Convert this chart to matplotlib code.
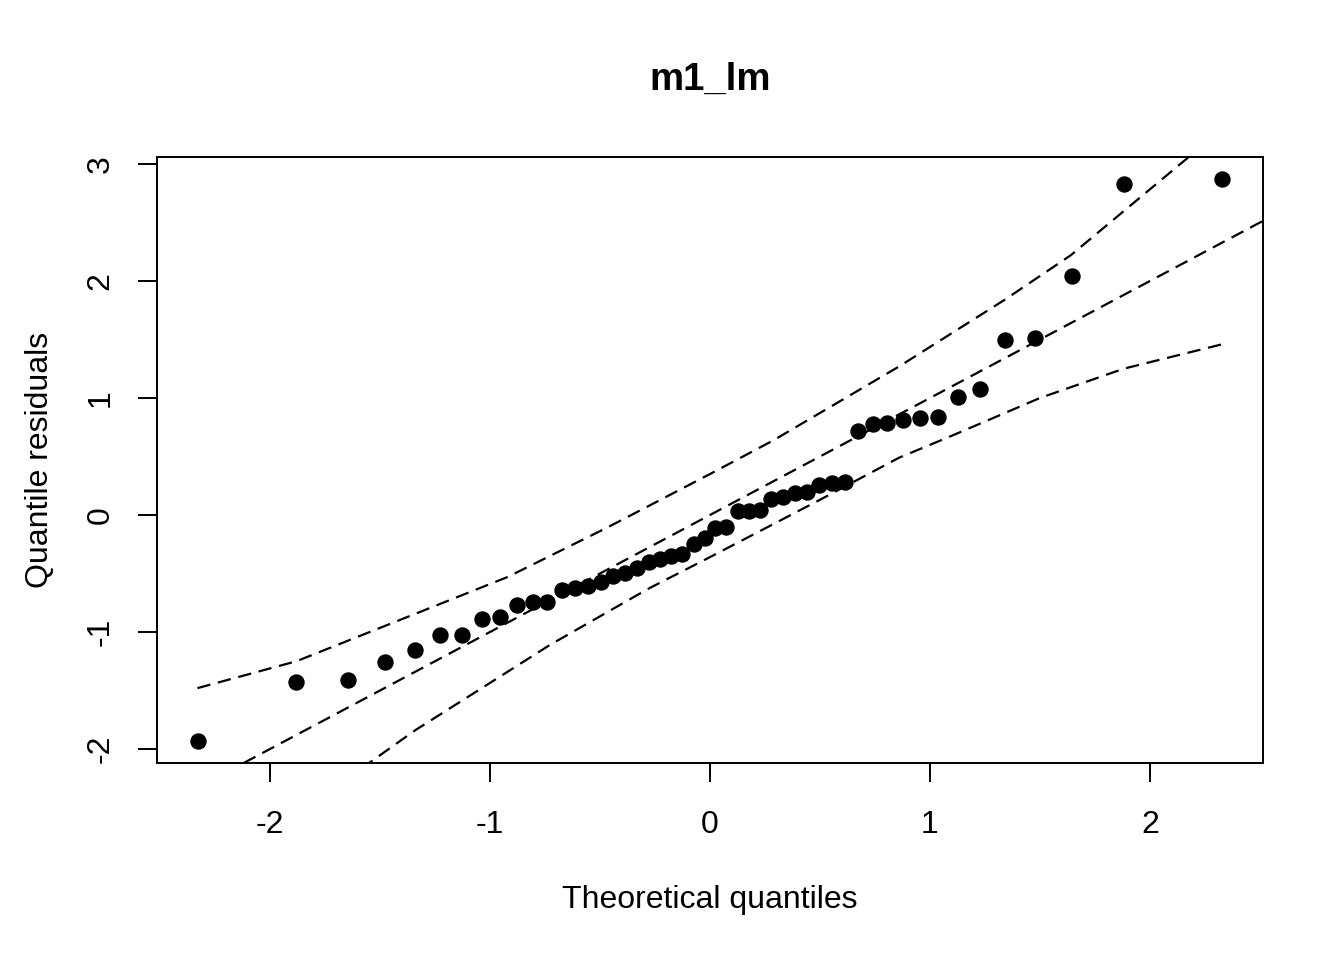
# Q-Q plot of quantile residuals for m1_lm, with reference line and envelope
import numpy as np
import matplotlib
matplotlib.use('Agg')
import matplotlib.pyplot as plt

plt.rcParams['font.family'] = ['Liberation Sans', 'DejaVu Sans']

# theoretical normal quantiles (n = 50)
theo_neg = [-2.326, -1.881, -1.645, -1.476, -1.341, -1.227, -1.126, -1.036, -0.954, -0.878,
            -0.806, -0.739, -0.674, -0.613, -0.553, -0.496, -0.440, -0.385, -0.332, -0.279,
            -0.228, -0.176, -0.126, -0.075, -0.025]
theo_pos = [0.025, 0.075, 0.126, 0.176, 0.228, 0.279, 0.332, 0.385, 0.440, 0.496,
            0.553, 0.613, 0.674, 0.739, 0.806, 0.878, 0.954, 1.036, 1.126, 1.227,
            1.341, 1.476, 1.645, 1.881, 2.326]
theo_q = theo_neg + theo_pos

# sorted quantile residuals
resid = [-1.93, -1.43, -1.41, -1.26, -1.15, -1.03, -1.03, -0.89, -0.87, -0.77,
         -0.74, -0.74, -0.64, -0.62, -0.61, -0.57, -0.52, -0.50, -0.45, -0.40,
         -0.38, -0.35, -0.33, -0.25, -0.20, -0.11, -0.10, 0.03, 0.03, 0.04,
         0.14, 0.15, 0.19, 0.20, 0.26, 0.27, 0.28, 0.72, 0.78, 0.79,
         0.81, 0.83, 0.84, 1.01, 1.08, 1.50, 1.51, 2.04, 2.83, 2.87]

# reference line
line_int = 0.0
line_slope = 1.0

# envelope
env_up_x = [-2.33, -1.88, -1.40, -0.92, -0.695, -0.47, 0.0, 0.29, 0.86, 1.34, 1.64, 2.17, 2.33]
env_up_y = [-1.48, -1.25, -0.89, -0.53, -0.32, -0.11, 0.35, 0.64, 1.27, 1.84, 2.22, 3.05, 3.30]
env_lo_x = [-2.33, -2.17, -1.55, -1.34, -0.92, -0.727, -0.28, 0.0, 0.50, 0.86, 1.09, 1.50, 1.88, 2.33]
env_lo_y = [-3.30, -3.05, -2.12, -1.84, -1.34, -1.11, -0.63, -0.36, 0.13, 0.49, 0.67, 1.00, 1.25, 1.46]

fs = 23
W, H = 1344, 960
fig = plt.figure(figsize=(W / 100, H / 100), dpi=100)
ax = fig.add_axes([157 / W, 1 - 763 / H, (1263 - 157) / W, (763 - 157) / H])

dash = (6, 3.5)
ax.plot(env_up_x, env_up_y, '--', color='black', lw=1.6, dashes=dash)
ax.plot(env_lo_x, env_lo_y, '--', color='black', lw=1.6, dashes=dash)
ax.axline((0, line_int), slope=line_slope, ls='--', color='black', lw=1.6, dashes=dash)
ax.plot(theo_q, resid, 'o', color='black', markersize=10.8, zorder=3)

ax.set_xlim(-2.514, 2.514)
ax.set_ylim(-2.12, 3.06)
ax.set_xticks([-2, -1, 0, 1, 2])
ax.set_xticklabels(['-2', '-1', '0', '1', '2'])
ax.set_yticks([-2, -1, 0, 1, 2, 3])
ax.set_yticklabels(['-2', '-1', '0', '1', '2', '3'], rotation=90, va='center')

for s in ax.spines.values():
    s.set_linewidth(1.4)
ax.tick_params(length=13.8, width=1.4, labelsize=fs, direction='out')
ax.tick_params(axis='x', pad=20)
ax.tick_params(axis='y', pad=16)

fig.text(710 / W, 1 - 900 / H, 'Theoretical quantiles', fontsize=fs, ha='center', va='center')
fig.text(40 / W, 1 - 460 / H, 'Quantile residuals', fontsize=fs, ha='center', va='center', rotation=90)
fig.text(710 / W, 1 - 80 / H, 'm1_lm', fontsize=27.6, fontweight='bold', ha='center', va='center')

fig.savefig('out.png', dpi=100)
